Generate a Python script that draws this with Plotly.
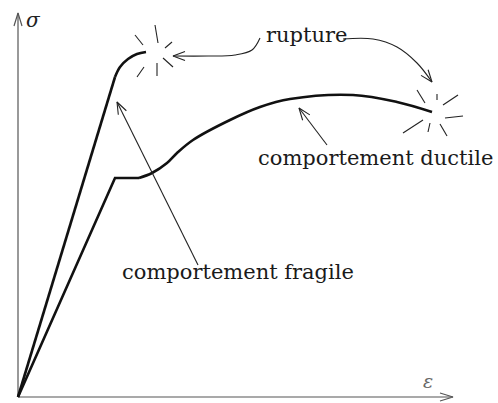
import math
import plotly.graph_objects as go

# stress-strain curves (arbitrary units, origin at bottom-left)
fragile_lin_x = [0, 97]
fragile_lin_y = [0, 320]
fragile_curve_x = [97, 102, 110, 119, 128]
fragile_curve_y = [320, 330, 338, 343, 345]

ductile_lin_x = [0, 97, 121]
ductile_lin_y = [0, 219, 219]
ductile_curve_x = [121, 134, 149, 159, 175, 212, 242, 272, 335, 379, 414]
ductile_curve_y = [219, 224, 234, 244, 257, 277, 290, 298, 302, 295, 285]

# rupture "bursts": ray segments (x0, y0, x1, y1)
burst_fragile = [(117, 362, 125, 352), (137, 372, 140, 354), (147, 349, 154, 355),
                 (145, 339, 155, 330), (139, 334, 139, 321), (119, 320, 126, 330)]
burst_ductile = [(399, 307, 407, 294), (419, 303, 419, 297), (425, 292, 440, 302),
                 (427, 279, 445, 281), (422, 273, 429, 261), (412, 274, 410, 265),
                 (405, 277, 385, 264)]

# annotation arrows (paths end at the tip)
arrow_fragile_x = [180, 99]
arrow_fragile_y = [132, 295]
arrow_ductile_x = [309, 281]
arrow_ductile_y = [252, 289]
arrow_rupt_left_x = [242, 234, 217, 190, 155]
arrow_rupt_left_y = [359, 347, 342, 341, 341]
arrow_rupt_right_x = [325, 355, 379, 399, 414]
arrow_rupt_right_y = [358, 358, 350, 334, 315]

x_axis_end = 435
y_axis_end = 384

labels = ["rupture", "comportement ductile", "comportement fragile"]
label_x = [288, 357, 220]
label_y = [362, 239, 125]

SERIF = "DejaVu Serif"


def head(xs, ys, length=12, half=4.5):
    # open "V" arrowhead at the last point of a path
    dx, dy = xs[-1] - xs[-2], ys[-1] - ys[-2]
    n = math.hypot(dx, dy)
    ux, uy = dx / n, dy / n
    bx, by = xs[-1] - ux * length, ys[-1] - uy * length
    px, py = -uy * half, ux * half
    return ([bx + px, xs[-1], bx - px], [by + py, ys[-1], by - py])


def segs(lst):
    sx, sy = [], []
    for x0, y0, x1, y1 in lst:
        sx += [x0, x1, None]
        sy += [y0, y1, None]
    return sx, sy


fig = go.Figure()

# axes
for ax, ay in [([0, x_axis_end], [0, 0]), ([0, 0], [0, y_axis_end])]:
    fig.add_trace(go.Scatter(x=ax, y=ay, mode="lines", line=dict(color="#555", width=1.2)))
    hx, hy = head(ax, ay, length=13, half=4)
    fig.add_trace(go.Scatter(x=hx, y=hy, mode="lines", line=dict(color="#555", width=1.2)))

curve = dict(color="#111", width=2.6)
fig.add_trace(go.Scatter(x=fragile_lin_x, y=fragile_lin_y, mode="lines", line=curve))
fig.add_trace(go.Scatter(x=fragile_curve_x, y=fragile_curve_y, mode="lines",
                         line=dict(curve, shape="spline")))
fig.add_trace(go.Scatter(x=ductile_lin_x, y=ductile_lin_y, mode="lines", line=curve))
fig.add_trace(go.Scatter(x=ductile_curve_x, y=ductile_curve_y, mode="lines",
                         line=dict(curve, shape="spline")))

for b in (burst_fragile, burst_ductile):
    sx, sy = segs(b)
    fig.add_trace(go.Scatter(x=sx, y=sy, mode="lines", line=dict(color="#222", width=1.1)))

thin = dict(color="#222", width=1.1)
for ax, ay in [(arrow_fragile_x, arrow_fragile_y), (arrow_ductile_x, arrow_ductile_y),
               (arrow_rupt_left_x, arrow_rupt_left_y), (arrow_rupt_right_x, arrow_rupt_right_y)]:
    shape = "spline" if len(ax) > 2 else "linear"
    fig.add_trace(go.Scatter(x=ax, y=ay, mode="lines", line=dict(thin, shape=shape)))
    hx, hy = head(ax, ay)
    fig.add_trace(go.Scatter(x=hx, y=hy, mode="lines", line=thin))

for t, x, y in zip(labels, label_x, label_y):
    fig.add_annotation(x=x, y=y, text=t, showarrow=False,
                       font=dict(family=SERIF, size=21, color="#1a1a1a"))

fig.add_annotation(x=15, y=377, text="<i>σ</i>", showarrow=False,
                   font=dict(family=SERIF, size=20, color="#222"))
fig.add_annotation(x=410, y=16, text="<i>ε</i>", showarrow=False,
                   font=dict(family=SERIF, size=19, color="#666"))

fig.update_layout(
    width=498, height=403,
    margin=dict(l=0, r=0, t=0, b=0),
    showlegend=False,
    plot_bgcolor="white", paper_bgcolor="white",
    xaxis=dict(range=[-18, 480], visible=False, fixedrange=True),
    yaxis=dict(range=[-6, 397], visible=False, fixedrange=True),
)

fig.write_html("out.html", config={"displayModeBar": False},
               post_script="document.body.style.margin='0px';")
